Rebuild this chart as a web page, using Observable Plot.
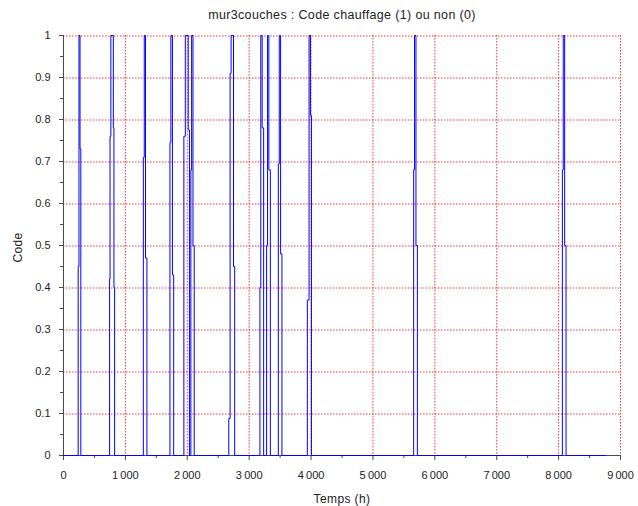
<!DOCTYPE html>
<html>
<head>
<meta charset="utf-8">
<script src="https://cdn.jsdelivr.net/npm/d3@7"></script>
<script src="https://cdn.jsdelivr.net/npm/@observablehq/plot@0.6"></script>
<style>
  html, body { margin: 0; padding: 0; background: #fff; }
  #chart { width: 638px; height: 506px; }
</style>
</head>
<body>
<div id="chart"></div>
<script>
// Title / labels
const titleText = "mur3couches : Code chauffage (1) ou non (0)";
const xLabel = "Temps (h)";
const yLabel = "Code";

// Tick values
const xTicks = [0, 1000, 2000, 3000, 4000, 5000, 6000, 7000, 8000, 9000];
const xMinorTicks = [500, 1500, 2500, 3500, 4500, 5500, 6500, 7500, 8500];
const yTicks = [0, 0.1, 0.2, 0.3, 0.4, 0.5, 0.6, 0.7, 0.8, 0.9, 1];
const yMinorTicks = [0.05, 0.15, 0.25, 0.35, 0.45, 0.55, 0.65, 0.75, 0.85, 0.95];
const xGrid = [1000, 2000, 3000, 4000, 5000, 6000, 7000, 8000, 9000];
const yGrid = [0.1, 0.2, 0.3, 0.4, 0.5, 0.6, 0.7, 0.8, 0.9, 1];

// Series: time (h) at which the heating code changes, and the new code value
const hours = [
  0,
  237, 250, 267, 280,
  745, 752, 765, 805, 815, 826,
  1290, 1305, 1325, 1348,
  1720, 1735, 1760, 1780,
  1945, 1968, 2015, 2035,
  2058, 2070, 2092, 2112,
  2671, 2692, 2708, 2747, 2766,
  3174, 3188, 3210, 3234,
  3282, 3297, 3318, 3342,
  3471, 3486, 3508, 3530,
  3940, 3968, 3990, 4006,
  5658, 5672, 5695, 5718,
  8061, 8075, 8098, 8120,
  8760
];
const codes = [
  0,
  0.45, 1, 0.73, 0,
  0.42, 0.76, 1, 0.78, 0.40, 0,
  0.71, 1, 0.47, 0,
  0.745, 1, 0.43, 0,
  0.76, 1, 0.775, 0,
  0.68, 1, 0.50, 0,
  0.088, 0.91, 1, 0.45, 0,
  0.40, 1, 0.78, 0,
  0.50, 1, 0.68, 0,
  0.694, 1, 0.48, 0,
  0.37, 1, 0.81, 0,
  0.68, 1, 0.50, 0,
  0.68, 1, 0.50, 0,
  0
];

const data = hours.map((h, i) => ({h, c: codes[i]}));

const loc = d3.formatLocale({decimal: ".", thousands: "\u2009", grouping: [3], currency: ["", ""]});
const fmtX = loc.format(",");
const fmtY = d3.format("");

const axisColor = "#4a4a4a";
const gridStyle = {stroke: "#ff2020", strokeOpacity: 0.9, strokeWidth: 1, strokeDasharray: "1.5,1.5"};

const chart = Plot.plot({
  width: 638,
  height: 506,
  marginLeft: 63,
  marginRight: 18,
  marginTop: 35,
  marginBottom: 51,
  style: {fontFamily: "'Liberation Sans', Arial, sans-serif", fontSize: "11px", color: "#333", background: "#fff"},
  x: {domain: [0, 9000]},
  y: {domain: [0, 1]},
  marks: [
    Plot.ruleX(xGrid, {...gridStyle}),
    Plot.ruleY(yGrid, {...gridStyle, dy: 0.5}),
    Plot.axisX(xMinorTicks, {tickSize: 3, text: null, stroke: axisColor, label: null}),
    Plot.axisX(xTicks, {tickSize: 5, tickPadding: 11, tickFormat: fmtX, stroke: axisColor, fill: "#222",
      label: null}),
    Plot.axisY(yMinorTicks, {tickSize: 3, text: null, stroke: axisColor, label: null}),
    Plot.axisY(yTicks, {tickSize: 4, tickPadding: 9, tickFormat: fmtY, stroke: axisColor, fill: "#222",
      label: null}),
    Plot.ruleX([0], {stroke: axisColor}),
    Plot.ruleY([0], {stroke: axisColor}),
    Plot.line(data, {x: "h", y: "c", stroke: "#0000ff", strokeWidth: 1, curve: "step-after"}),
    Plot.text([titleText], {frameAnchor: "top", dy: -25, fontSize: 12.5, fill: "#222"}),
    Plot.text([xLabel], {frameAnchor: "bottom", dy: 47, fontSize: 12, fill: "#222"}),
    Plot.text([yLabel], {frameAnchor: "left", dx: -45, dy: 17, rotate: -90, fontSize: 12, fill: "#222"})
  ]
});
chart.querySelectorAll("text").forEach(t => {
  if (t.textContent === titleText) t.setAttribute("letter-spacing", "0.35");
  if (t.textContent === xLabel) t.setAttribute("letter-spacing", "0.4");
  if (t.textContent === yLabel) t.setAttribute("letter-spacing", "0.3");
});
document.getElementById("chart").appendChild(chart);
</script>
</body>
</html>
